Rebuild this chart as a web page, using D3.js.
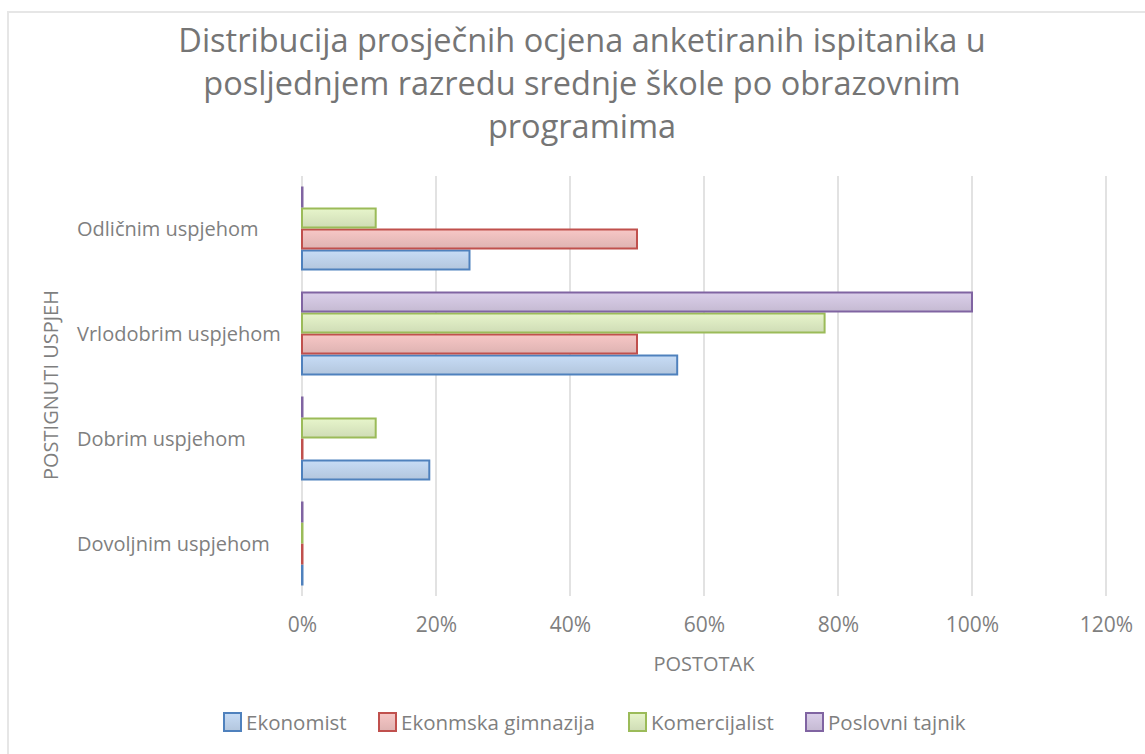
<!DOCTYPE html>
<html>
    <head>
        <meta charset="utf-8" />
        <script src="https://d3js.org/d3.v7.min.js"></script>
        <style>
            body { margin: 0; background: #fff; }
            text { fill: #595959; font-family: "Open Sans", sans-serif; }
            .title { fill: #757575; font-size: 32.5px; }
            .tick text { font-size: 21px; fill: #7f7f7f; }
            .cat { font-size: 20px; fill: #7f7f7f; }
            .axis-title { font-size: 20px; fill: #7f7f7f; }
            .legend text { font-size: 20.5px; fill: #7f7f7f; }
        </style>
    </head>
    <body>
        <svg id="chart" width="1145" height="754"></svg>
        <script>
            var categories = ["Odličnim uspjehom", "Vrlodobrim uspjehom", "Dobrim uspjehom", "Dovoljnim uspjehom"];
            var seriesNames = ["Ekonomist", "Ekonmska gimnazija", "Komercijalist", "Poslovni tajnik"];
            var ekonomist = [0.25, 0.56, 0.19, 0];
            var gimnazija = [0.50, 0.50, 0, 0];
            var komercijalist = [0.11, 0.78, 0.11, 0];
            var poslovni = [0, 1.00, 0, 0];
            var tickValues = [0, 0.2, 0.4, 0.6, 0.8, 1.0, 1.2];

            var fills = ["#b9cde5", "#e6b9b8", "#d7e4bd", "#ccc1da"];
            var strokes = ["#4f81bd", "#c0504d", "#9bbb59", "#8064a2"];
            var values = [ekonomist, gimnazija, komercijalist, poslovni];

            var svg = d3.select("#chart");

            // chart border
            svg.append("rect")
                .attr("x", 8).attr("y", 12)
                .attr("width", 1200).attr("height", 800)
                .attr("fill", "none")
                .attr("stroke", "#e6e6e6")
                .attr("stroke-width", 2);

            var defs = svg.append("defs");
            fills.forEach(function(c, i) {
                var g = defs.append("linearGradient")
                    .attr("id", "grad" + i)
                    .attr("x1", 0).attr("y1", 0).attr("x2", 0).attr("y2", 1);
                g.append("stop").attr("offset", "0%").attr("stop-color", d3.color(c).brighter(0.2));
                g.append("stop").attr("offset", "100%").attr("stop-color", d3.color(c).darker(0.1));
            });

            var plotLeft = 302, plotRight = 1106, plotTop = 176, plotBottom = 596;

            var x = d3.scaleLinear().domain([0, 1.2]).range([plotLeft, plotRight]);
            var y = d3.scaleBand().domain(categories).range([plotTop, plotBottom])
                .paddingInner(0.2).paddingOuter(0.1);
            // series drawn bottom-up inside each band
            var ySub = d3.scaleBand().domain([3, 2, 1, 0]).range([0, y.bandwidth()]);

            // title
            var titleLines = ["Distribucija prosječnih ocjena anketiranih ispitanika u",
                              "posljednjem razredu srednje škole po obrazovnim",
                              "programima"];
            svg.append("text")
                .attr("class", "title")
                .attr("text-anchor", "middle")
                .selectAll("tspan")
                .data(titleLines)
                .enter().append("tspan")
                .attr("x", 582)
                .attr("y", function(d, i) { return 52 + i * 43; })
                .text(function(d) { return d; });

            // grid
            svg.append("g")
                .selectAll("line")
                .data(tickValues)
                .enter().append("line")
                .attr("x1", function(d) { return x(d); })
                .attr("x2", function(d) { return x(d); })
                .attr("y1", plotTop)
                .attr("y2", plotBottom)
                .attr("stroke", "#d9d9d9")
                .attr("stroke-width", 1.5);

            // x axis labels
            var xAxis = svg.append("g")
                .attr("transform", "translate(0," + (plotBottom + 15) + ")")
                .call(d3.axisBottom(x).tickValues(tickValues).tickFormat(d3.format(".0%")).tickSize(0).tickPadding(6));
            xAxis.select(".domain").remove();

            // category labels
            svg.append("g")
                .selectAll("text")
                .data(categories)
                .enter().append("text")
                .attr("class", "cat")
                .attr("x", 77)
                .attr("y", function(d) { return y(d) + y.bandwidth() / 2 + 7; })
                .text(function(d) { return d; });

            // bars
            seriesNames.forEach(function(name, s) {
                svg.append("g")
                    .selectAll("rect")
                    .data(values[s])
                    .enter().append("rect")
                    .attr("x", x(0))
                    .attr("y", function(d, i) { return y(categories[i]) + ySub(s) + 1; })
                    .attr("width", function(d) { return Math.max(x(d) - x(0), 0.5); })
                    .attr("height", ySub.bandwidth() - 2)
                    .attr("fill", "url(#grad" + s + ")")
                    .attr("stroke", strokes[s])
                    .attr("stroke-width", 2);
            });

            // axis titles
            svg.append("text")
                .attr("class", "axis-title")
                .attr("text-anchor", "middle")
                .attr("x", x(0.6))
                .attr("y", 671)
                .text("POSTOTAK");

            svg.append("text")
                .attr("class", "axis-title")
                .attr("text-anchor", "middle")
                .attr("transform", "translate(58,385) rotate(-90)")
                .text("POSTIGNUTI USPJEH");

            // legend
            var legendX = [224, 379, 629, 806];
            var legend = svg.append("g").attr("class", "legend");
            seriesNames.forEach(function(name, s) {
                legend.append("rect")
                    .attr("x", legendX[s])
                    .attr("y", 713)
                    .attr("width", 17)
                    .attr("height", 18)
                    .attr("fill", "url(#grad" + s + ")")
                    .attr("stroke", strokes[s])
                    .attr("stroke-width", 2);
                legend.append("text")
                    .attr("x", legendX[s] + 22)
                    .attr("y", 730)
                    .text(name);
            });
        </script>
    </body>
</html>
